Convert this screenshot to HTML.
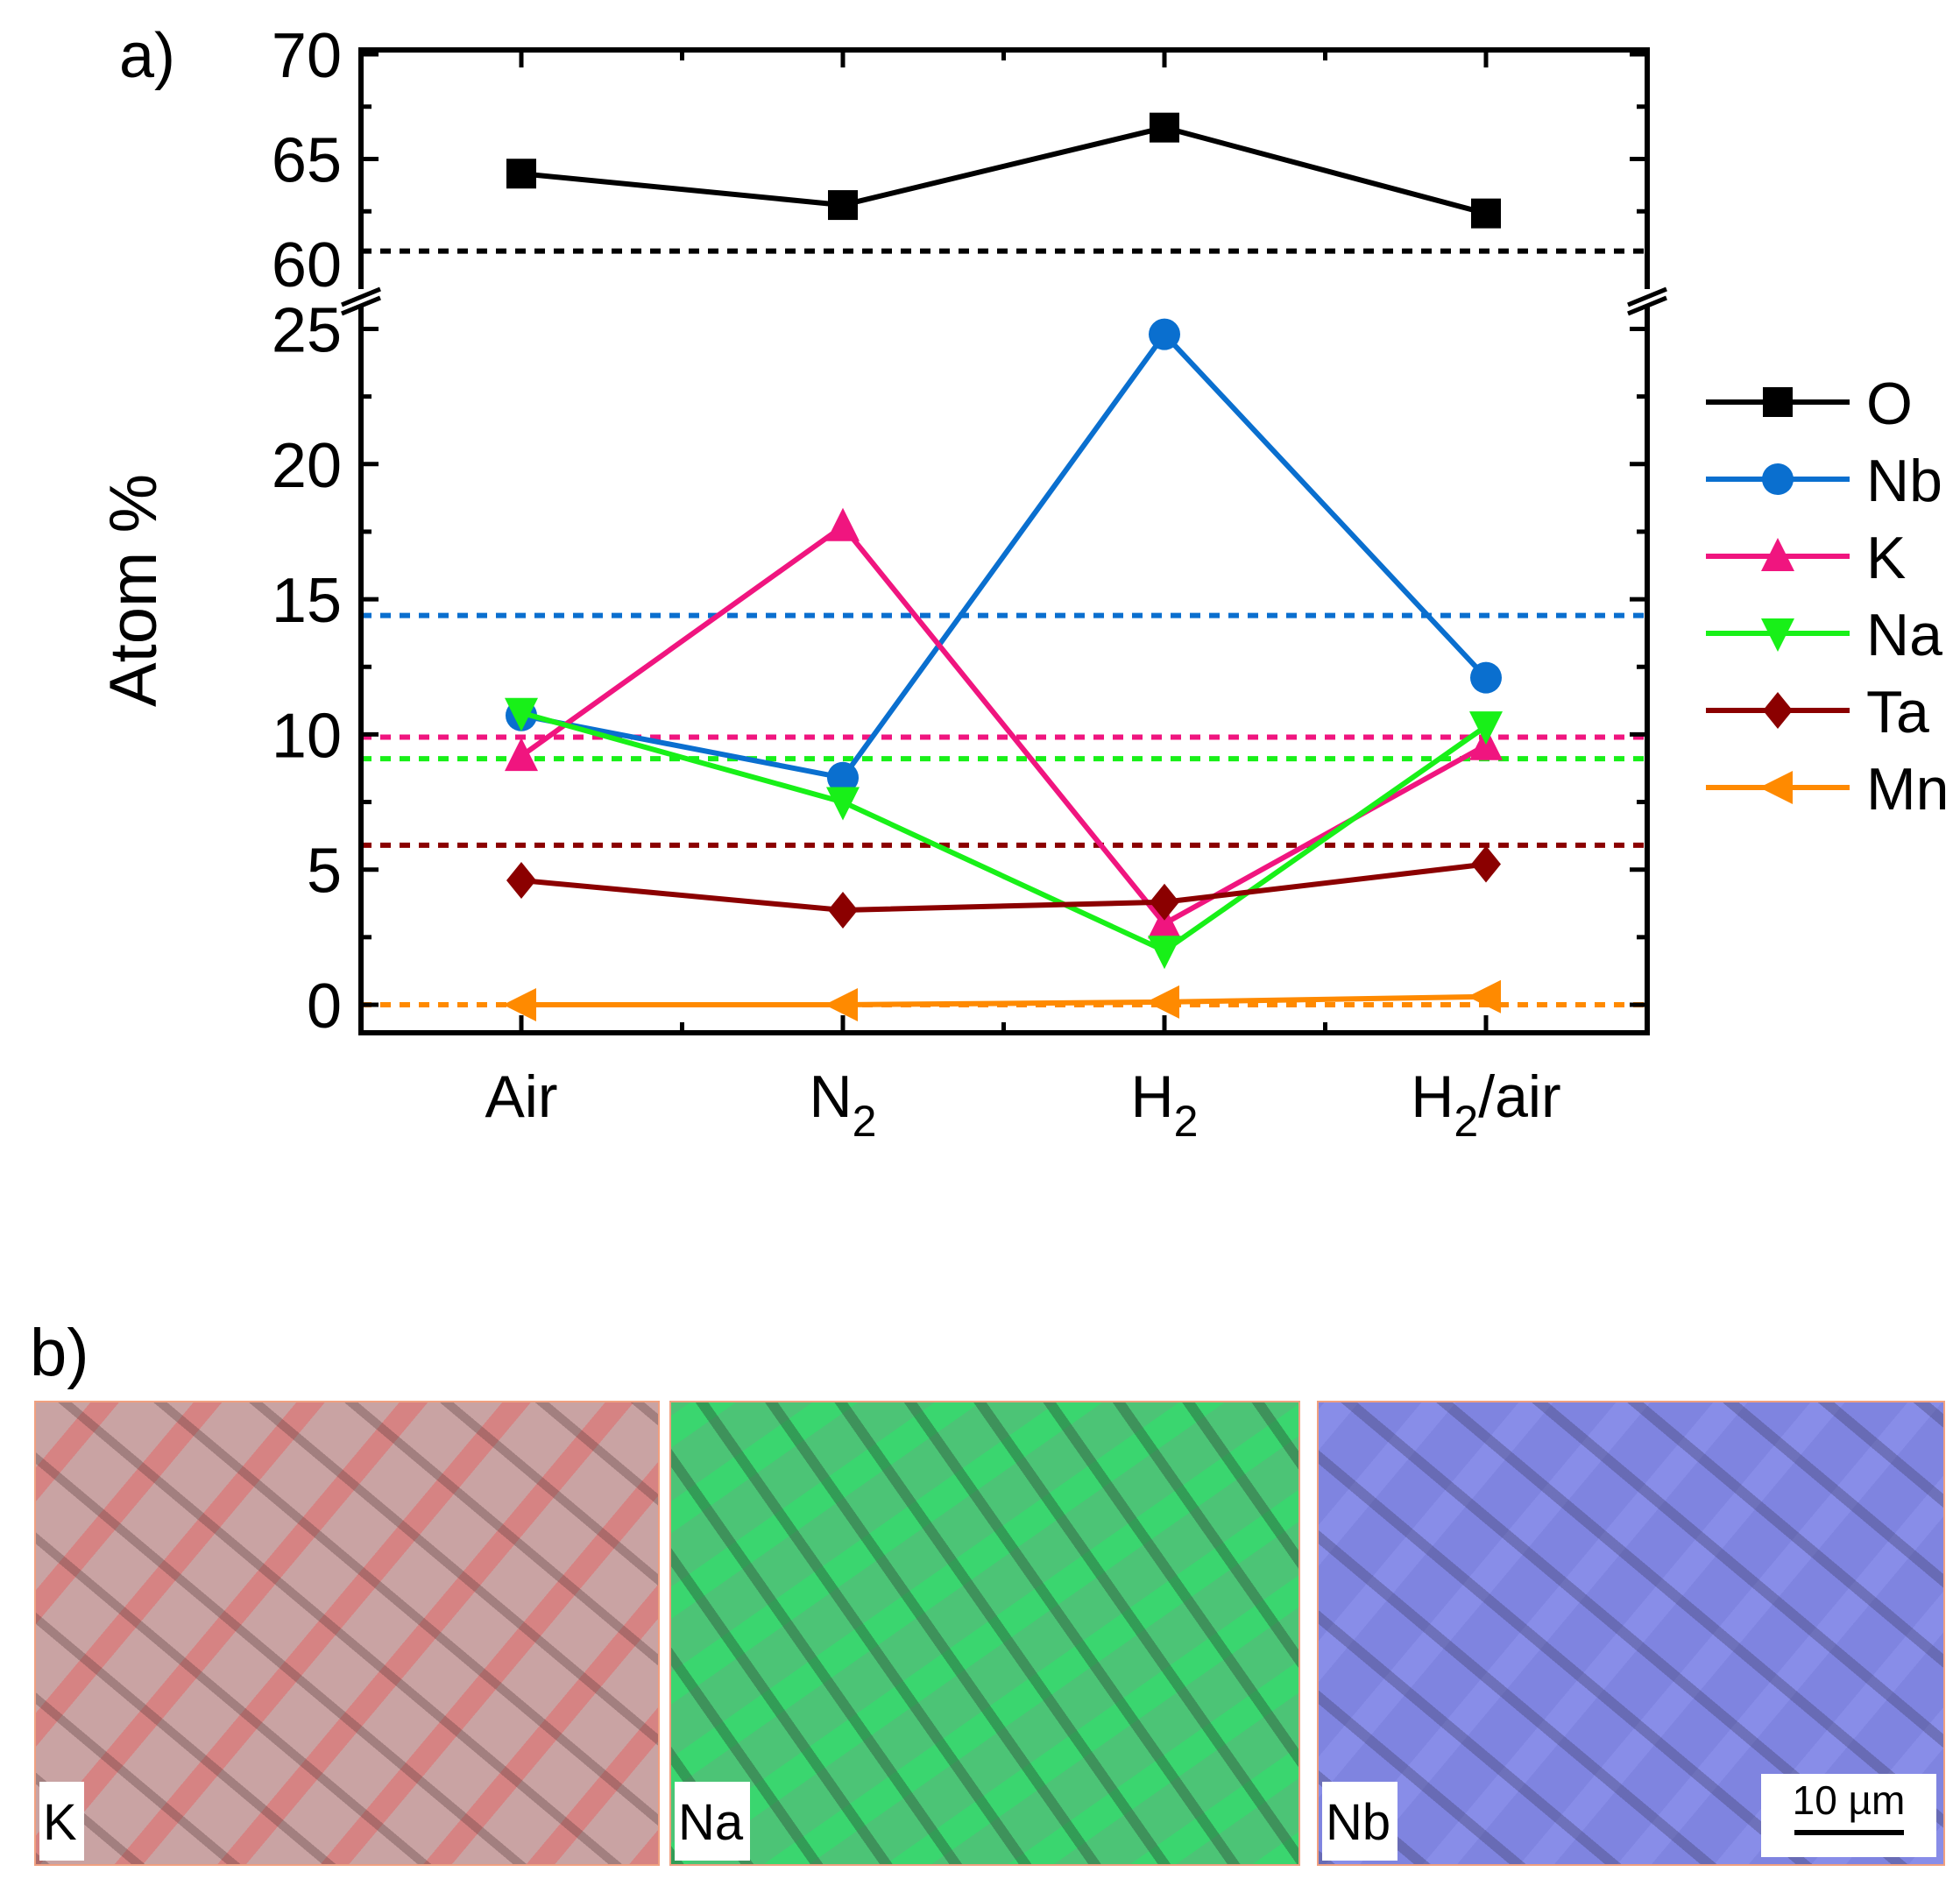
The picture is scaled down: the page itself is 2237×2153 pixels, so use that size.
<!DOCTYPE html>
<html><head><meta charset="utf-8"><style>
body{margin:0;background:#fff;width:2237px;height:2153px;overflow:hidden;font-family:"Liberation Sans",sans-serif}
svg{position:absolute;left:0;top:0}
.map{position:absolute;top:1599px;height:531px;border:2px solid #f0a080;box-sizing:border-box;overflow:hidden}
.lbl{position:absolute;left:4px;bottom:4px;background:#fff;font-size:58px;padding:4px 8px 0 4px;line-height:86px}
</style></head><body>
<svg id="chart" width="2237" height="2153"></svg>
<div class="map" style="left:39px;width:714px;background:repeating-linear-gradient(40deg,rgba(90,60,60,0.35) 0 10px,transparent 10px 70px),repeating-linear-gradient(-50deg,rgba(238,72,72,0.35) 0 25px,transparent 25px 90px),#c9a3a3"><div class="lbl">K</div></div>
<div class="map" style="left:764px;width:720px;background:repeating-linear-gradient(55deg,rgba(40,70,50,0.4) 0 12px,transparent 12px 65px),repeating-linear-gradient(-35deg,rgba(30,240,100,0.4) 0 30px,transparent 30px 80px),#4cc476"><div class="lbl">Na</div></div>
<div class="map" style="left:1503px;width:717px;background:repeating-linear-gradient(40deg,rgba(60,60,100,0.35) 0 12px,transparent 12px 70px),repeating-linear-gradient(-50deg,rgba(150,155,245,0.4) 0 30px,transparent 30px 85px),#7f84e0"><div class="lbl">Nb</div>
<div style="position:absolute;right:8px;bottom:8px;background:#fff;width:200px;height:95px;font-size:46px;text-align:center;line-height:60px">10 µm<div style="width:125px;height:6px;background:#000;margin:4px auto 0"></div></div></div>
<script>
const categories=["Air","N2","H2","H2/air"];
const O=[64.3,62.8,66.5,62.4];
const Nb=[10.7,8.4,24.8,12.1];
const K=[9.2,17.7,3.0,9.6];
const Na=[10.8,7.5,2.0,10.3];
const Ta=[4.6,3.5,3.8,5.2];
const Mn=[0.0,0.0,0.1,0.3];
const refs=[60.6,14.4,9.9,9.1,5.9,0];
const lowTicks=[0,5,10,15,20,25];
const upTicks=[60,65,70];
const names=["O","Nb","K","Na","Ta","Mn"];
const colors=["#000","#0a6fcf","#f0157f","#18f018","#8b0000","#ff8a00"];
const series=[O,Nb,K,Na,Ta,Mn];
const markers=["sq","ci","tu","td","di","tl"];
const L=412,R=1880,T=57,B=1179;
const svg=document.getElementById('chart');
const NS="http://www.w3.org/2000/svg";
function el(t,a,p){const e=document.createElementNS(NS,t);for(const k in a)e.setAttribute(k,a[k]);(p||svg).appendChild(e);return e;}
const x=i=>595+i*367;
const y=v=>v>=40?301-(v-60)*23.9:1147-v*30.86;
refs.forEach((r,i)=>{const d=el('line',{x1:L,x2:R,y1:y(r),y2:y(r),stroke:colors[i],'stroke-width':6,'stroke-dasharray':'12 10'});
});
const fr=el('rect',{x:L,y:T,width:R-L,height:B-T,fill:'none',stroke:'#000','stroke-width':6});

[L,R].forEach(bx=>{el('rect',{x:bx-20,y:330,width:40,height:20,fill:'#fff'});
el('line',{x1:bx-22,y1:348,x2:bx+22,y2:330,stroke:'#000','stroke-width':5});el('line',{x1:bx-22,y1:358,x2:bx+22,y2:340,stroke:'#000','stroke-width':5});});
for(let v=0;v<=25;v+=2.5){const len=v%5==0?20:12;[[L,L+len],[R,R-len]].forEach(p=>el('line',{x1:p[0],x2:p[1],y1:y(v),y2:y(v),stroke:'#000','stroke-width':5}));}
for(let v=62.5;v<=70;v+=2.5){const len=v%5==0?20:12;[[L,L+len],[R,R-len]].forEach(p=>el('line',{x1:p[0],x2:p[1],y1:y(v),y2:y(v),stroke:'#000','stroke-width':5}));}
lowTicks.concat(upTicks).forEach(v=>{const t=el('text',{x:L-22,y:y(v)+26,'text-anchor':'end','font-size':72,fill:'#000'});t.textContent=v;
});
for(let i=0;i<=6;i++){const xx=x(0)+i*183.5;const len=i%2==0?20:12;
el('line',{x1:xx,x2:xx,y1:B,y2:B-len,stroke:'#000','stroke-width':5});el('line',{x1:xx,x2:xx,y1:T,y2:T+len,stroke:'#000','stroke-width':5});}
categories.forEach((c,i)=>{const t=el('text',{x:x(i),y:1275,'text-anchor':'middle','font-size':68,fill:'#000'});
const m=c.match(/^(\w)2(.*)$/);if(m){t.innerHTML=m[1]+'<tspan dy="22" font-size="50">2</tspan><tspan dy="-22">'+m[2]+'</tspan>';}else t.textContent=c;
});
function marker(type,cx,cy,c,g){const s=17;let e;
if(type=='sq')e=el('rect',{x:cx-s,y:cy-s,width:2*s,height:2*s,fill:c},g);
else if(type=='ci')e=el('circle',{cx:cx,cy:cy,r:s+1,fill:c},g);
else if(type=='tu')e=el('polygon',{points:`${cx},${cy-s-4} ${cx+s+2},${cy+s} ${cx-s-2},${cy+s}`,fill:c},g);
else if(type=='td')e=el('polygon',{points:`${cx},${cy+s+4} ${cx+s+2},${cy-s} ${cx-s-2},${cy-s}`,fill:c},g);
else if(type=='di')e=el('polygon',{points:`${cx},${cy-s-4} ${cx+s},${cy} ${cx},${cy+s+4} ${cx-s},${cy}`,fill:c},g);
else e=el('polygon',{points:`${cx-s-4},${cy} ${cx+s},${cy-s-2} ${cx+s},${cy+s+2}`,fill:c},g);
}
series.forEach((d,si)=>{const g=el('g',{});
el('polyline',{points:d.map((v,i)=>x(i)+','+y(v)).join(' '),fill:'none',stroke:colors[si],'stroke-width':6},g);
d.forEach((v,i)=>marker(markers[si],x(i),y(v),colors[si],g));
const ly=459+si*88;const lg=el('g',{});
el('line',{x1:1947,x2:2111,y1:ly,y2:ly,stroke:colors[si],'stroke-width':6},lg);marker(markers[si],2029,ly,colors[si],lg);
const t=el('text',{x:2130,y:ly+25,'font-size':68,fill:'#000'},lg);t.textContent=names[si];});
const yt=el('text',{transform:'translate(178,674) rotate(-90)','text-anchor':'middle','font-size':76,fill:'#000'});yt.textContent='Atom %';

const a=el('text',{x:136,y:88,'font-size':72,fill:'#000'});a.textContent='a)';
const b=el('text',{x:34,y:1570,'font-size':76,fill:'#000'});b.textContent='b)';
</script>
</body></html>
